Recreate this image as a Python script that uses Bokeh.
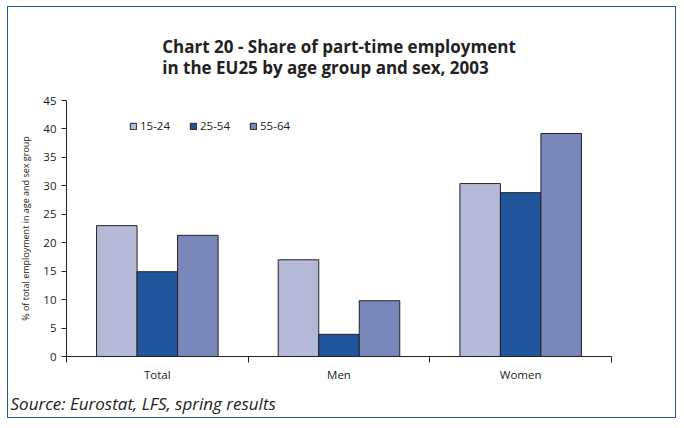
from bokeh.plotting import figure
from bokeh.models import (ColumnDataSource, Range1d, FixedTicker, LinearAxis,
                          Legend, LegendItem, Title)
from bokeh.transform import dodge
from bokeh.embed import file_html
from bokeh.resources import INLINE

categories = ["Total", "Men", "Women"]
age_groups = ["15-24", "25-54", "55-64"]
v1524 = [23.0, 17.0, 30.4]
v2554 = [14.9, 3.9, 28.8]
v5564 = [21.3, 9.8, 39.2]
y_ticks = [0, 5, 10, 15, 20, 25, 30, 35, 40, 45]
colors = ["#b4b9d8", "#22569c", "#7a87bb"]

FONT = "Open Sans"

centers = [i + 0.5 for i in range(len(categories))]
bounds = list(range(len(categories) + 1))
src = ColumnDataSource(dict(x=centers, cat=categories, a=v1524, b=v2554, c=v5564))

p = figure(width=669, height=412, x_range=Range1d(0, len(categories)), y_range=Range1d(0, 45),
           output_backend="svg", toolbar_location=None, x_axis_location=None,
           y_axis_location=None, min_border_left=58, min_border_right=66,
           min_border_top=93, min_border_bottom=10)
p.styles = {"border": "1px solid #1b5aa6", "margin-left": "7px", "margin-top": "6px"}
p.outline_line_color = None
p.xgrid.visible = False
p.ygrid.visible = False

bw = 0.223
renderers = []
for col, off, colr in zip(["a", "b", "c"], [-bw, 0, bw], colors):
    r = p.vbar(x=dodge("x", off), top=col, width=bw, source=src,
               fill_color=colr, line_color="#222222", line_width=1)
    renderers.append(r)

# y axis
yax = LinearAxis(ticker=FixedTicker(ticks=y_ticks), axis_label="% of total employment in age and sex group")
yax.axis_label_text_font = FONT
yax.axis_label_text_font_size = "9px"
yax.axis_label_text_font_style = "normal"
yax.axis_label_text_color = "#222222"
yax.axis_label_standoff = 8
yax.major_label_text_font = FONT
yax.major_label_text_font_size = "11.5px"
yax.major_label_text_color = "#222222"
yax.major_tick_in = 0
yax.major_tick_out = 5
yax.minor_tick_line_color = None
yax.axis_line_color = "#222222"
yax.major_tick_line_color = "#222222"
p.add_layout(yax, "left")

# x axis: labels at category centres, tick marks at category boundaries
xax = LinearAxis(ticker=FixedTicker(ticks=centers, minor_ticks=bounds),
                 major_label_overrides={c: n for c, n in zip(centers, categories)})
xax.axis_line_color = "#222222"
xax.major_tick_line_color = None
xax.major_tick_in = 0
xax.major_tick_out = 6
xax.minor_tick_in = 0
xax.minor_tick_out = 6
xax.minor_tick_line_color = "#222222"
xax.major_label_text_font = FONT
xax.major_label_text_font_size = "11.5px"
xax.major_label_text_color = "#222222"
xax.major_label_standoff = 4
p.add_layout(xax, "below")

legend = Legend(items=[LegendItem(label=g, renderers=[r]) for g, r in zip(age_groups, renderers)],
                orientation="horizontal", location=(63, 223), padding=0, margin=0,
                glyph_width=8, glyph_height=8, label_standoff=3, spacing=19,
                label_height=12, label_text_font=FONT, label_text_font_size="11.5px",
                label_text_color="#222222", border_line_color=None, background_fill_alpha=0)
p.add_layout(legend, "center")

src_title = Title(text="Source: Eurostat, LFS, spring results", align="left",
                  text_font=FONT, text_font_size="17px", text_font_style="italic",
                  text_color="#222222", offset=-56, standoff=10)
p.add_layout(src_title, "below")

title = Title(text="Chart 20 - Share of part-time employment\nin the EU25 by age group and sex, 2003",
              align="center", text_font=FONT, text_font_size="17px", text_font_style="bold",
              text_color="#222222", standoff=42, text_line_height=0.95)
p.add_layout(title, "above")

open("out.html", "w").write(file_html(p, INLINE))
